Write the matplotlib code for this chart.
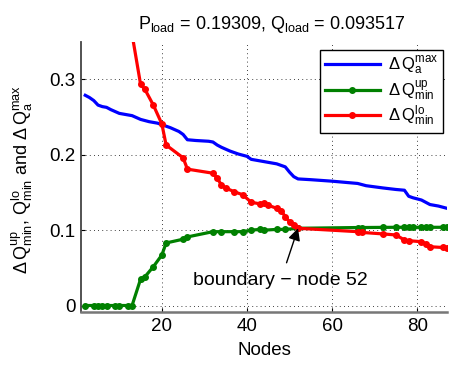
import matplotlib
matplotlib.use("Agg")
import matplotlib.pyplot as plt

plt.rcParams["font.family"] = ["Liberation Sans", "DejaVu Sans"]
plt.rcParams["mathtext.fontset"] = "custom"
plt.rcParams["mathtext.rm"] = "Liberation Sans"
plt.rcParams["mathtext.it"] = "Liberation Sans"

# dQ_a^max (no markers)
blue_nodes = [2, 3, 4, 5, 6, 7, 8, 10, 12, 13, 15, 17, 19, 20, 22, 24, 25, 26, 28, 31,
              32, 33, 34, 36, 38, 40, 41, 43, 45, 47, 49, 50, 51, 52, 55, 60, 66, 68,
              72, 75, 77, 78, 79, 81, 82, 83, 85, 87]
blue_vals = [0.279, 0.276, 0.272, 0.266, 0.264, 0.263, 0.260, 0.255, 0.253, 0.252,
             0.247, 0.244, 0.242, 0.240, 0.236, 0.231, 0.227, 0.220, 0.219, 0.218,
             0.217, 0.213, 0.210, 0.205, 0.201, 0.198, 0.194, 0.192, 0.190, 0.188,
             0.184, 0.177, 0.171, 0.168, 0.167, 0.165, 0.162, 0.159, 0.156, 0.154,
             0.153, 0.145, 0.143, 0.140, 0.137, 0.134, 0.132, 0.129]

# dQ_min^up
green_nodes = [2, 4, 5, 6, 7, 9, 10, 12, 13, 15, 16, 18, 20, 21, 25, 26, 32, 34, 37, 39,
               41, 43, 44, 47, 49, 52, 66, 67, 72, 75, 77, 78, 79, 81, 82, 83, 86, 87]
green_vals = [0, 0, 0, 0, 0, 0, 0, 0, 0, 0.035, 0.038, 0.0515, 0.067, 0.083, 0.088,
              0.091, 0.098, 0.098, 0.098, 0.098, 0.100, 0.101, 0.100, 0.101, 0.101,
              0.1025, 0.1035, 0.1035, 0.1037, 0.1038, 0.1038, 0.1038, 0.1038, 0.1038,
              0.1038, 0.1038, 0.1038, 0.1038]

# dQ_min^lo (values before node 15 are above the plotted range)
red_nodes = [2, 4, 5, 6, 7, 9, 10, 12, 13, 15, 16, 18, 20, 21, 25, 26, 32, 33, 34, 35,
             37, 39, 41, 43, 44, 45, 47, 48, 49, 50, 51, 52, 66, 67, 72, 75, 77, 78,
             81, 82, 83, 86, 87]
red_vals = [1.2, 1.05, 0.98, 0.92, 0.8, 0.72, 0.66, 0.5, 0.36, 0.2935, 0.287, 0.266,
            0.241, 0.213, 0.196, 0.181, 0.1756, 0.169, 0.160, 0.156, 0.151, 0.147,
            0.137, 0.135, 0.136, 0.133, 0.129, 0.126, 0.118, 0.111, 0.107, 0.1025,
            0.098, 0.097, 0.095, 0.0936, 0.087, 0.086, 0.0847, 0.082, 0.078, 0.077,
            0.0757]

boundary_node = 52
boundary_val = 0.1025

fig = plt.figure(figsize=(4.51, 3.68), dpi=100)
ax = fig.add_axes([0.1796, 0.1514, 0.8115, 0.735])

ax.plot(blue_nodes, blue_vals, color=(0, 0, 1), lw=2.3,
        label=r"$\Delta\,\mathrm{Q}_{\mathrm{a}}^{\mathrm{max}}$")
ax.plot(green_nodes, green_vals, color=(0, 0.5, 0), lw=2.3, marker="o", ms=4,
        label=r"$\Delta\,\mathrm{Q}_{\mathrm{min}}^{\mathrm{up}}$")
ax.plot(red_nodes, red_vals, color=(1, 0, 0), lw=2.3, marker="o", ms=4,
        label=r"$\Delta\,\mathrm{Q}_{\mathrm{min}}^{\mathrm{lo}}$")

ax.annotate("boundary \u2212 node 52", xy=(boundary_node, boundary_val),
            xytext=(47.9, 0.033), ha="center", va="center", fontsize=14,
            arrowprops=dict(arrowstyle="-|>", color="black", lw=1,
                            mutation_scale=18, shrinkA=5, shrinkB=0))

ax.set_xlim(1, 87)
ax.set_ylim(-0.009, 0.35)
ax.set_xticks([20, 40, 60, 80])
ax.set_yticks([0, 0.1, 0.2, 0.3])
ax.set_yticklabels(["0", "0.1", "0.2", "0.3"])
ax.tick_params(direction="in", length=3, labelsize=13.5, colors="black", pad=4)
ax.grid(True, color="black", linestyle=(0, (1, 4)), linewidth=0.6)

for s in ["top", "right"]:
    ax.spines[s].set_visible(False)
ax.spines["left"].set_color("#444444")
ax.spines["left"].set_linewidth(1.3)
ax.spines["bottom"].set_color("#777777")
ax.spines["bottom"].set_linewidth(1.8)

ax.set_xlabel("Nodes", fontsize=13.5, labelpad=5)
ax.set_ylabel(r"$\Delta\,\mathrm{Q}_{\mathrm{min}}^{\mathrm{up}}$, "
              r"$\mathrm{Q}_{\mathrm{min}}^{\mathrm{lo}}$ and "
              r"$\Delta\,\mathrm{Q}_{\mathrm{a}}^{\mathrm{max}}$", fontsize=13)
ax.yaxis.set_label_coords(-0.125, 0.49)
ax.set_title(r"$\mathrm{P}_{\mathrm{load}}$ = 0.19309, $\mathrm{Q}_{\mathrm{load}}$ = 0.093517",
             fontsize=13, x=0.52, pad=9)

leg = ax.legend(loc="upper right", bbox_to_anchor=(0.99, 0.97), borderaxespad=0,
                fontsize=12, fancybox=False, framealpha=1, edgecolor="black",
                handlelength=3.3, handletextpad=0.5, borderpad=0.3, labelspacing=0.05)
leg.get_frame().set_linewidth(1.0)

fig.savefig("out.png", dpi=100)
